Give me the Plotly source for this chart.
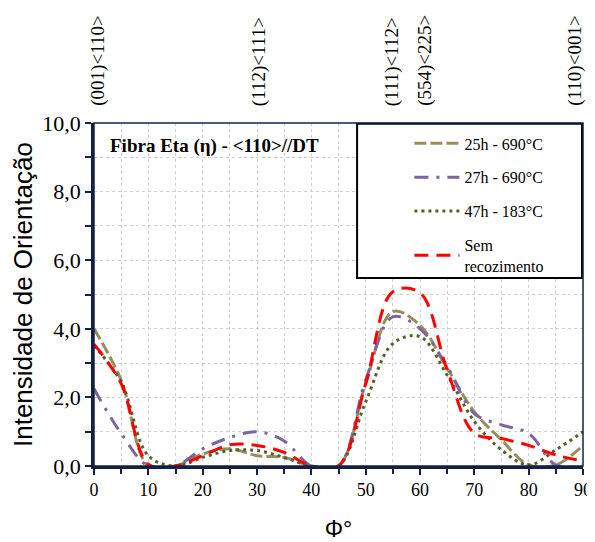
import plotly.graph_objects as go

# angulo Phi (graus) - pontos a cada 5 graus
phi = [0, 5, 10, 15, 20, 25, 30, 35, 40, 45, 50, 55, 60, 65, 70, 75, 80, 85, 90]

# intensidade de orientacao por condicao
i_25h_690 = [4.0, 2.5, 0.0, 0.0, 0.35, 0.5, 0.3, 0.25, 0.0, 0.0, 2.4, 4.5, 4.1, 2.85, 1.58, 0.76, 0.03, 0.03, 0.6]
i_27h_690 = [2.25, 0.95, 0.0, 0.0, 0.5, 0.83, 1.0, 0.73, 0.0, 0.0, 2.5, 4.35, 4.0, 2.9, 1.53, 1.2, 0.95, 0.03, 0.0]
i_47h_183 = [3.5, 2.45, 0.3, 0.0, 0.25, 0.45, 0.45, 0.25, 0.0, 0.0, 1.87, 3.57, 3.77, 2.65, 1.3, 0.47, 0.03, 0.47, 1.0]
i_sem_rec = [3.55, 2.4, 0.05, 0.0, 0.3, 0.62, 0.6, 0.4, 0.0, 0.0, 2.4, 5.08, 5.05, 2.8, 0.95, 0.8, 0.6, 0.32, 0.15]

# componentes ideais marcados no topo
comp_pos = [0.7, 30.5, 55, 61, 88.5]
comp_lbl = ["(001)<110>", "(112)<111>", "(111)<112>", "(554)<225>", "(110)<001>"]

serie = [
    ("25h - 690°C", i_25h_690, "#978E5E", "12px,4px"),
    ("27h - 690°C", i_27h_690, "#7B64A0", "14px,8px,3px,8px"),
    ("47h - 183°C", i_47h_183, "#4F6228", "3px,4px"),
    ("Sem<br>recozimento", i_sem_rec, "#FF0000", "14px,8px"),
]

serif = "Times New Roman, Liberation Serif, serif"
sans = "Arial, Liberation Sans, sans-serif"
navy = "#13214A"

fig = go.Figure()
for k, (nome, vals, cor, dash) in enumerate(serie):
    fig.add_trace(go.Scatter(x=phi, y=vals, name=nome, mode="lines",
                             line=dict(color=cor, width=3, dash=dash, shape="spline", smoothing=1),
                             legendgroup="g%d" % k))

# rotulos dos componentes
for xp, txt in zip(comp_pos, comp_lbl):
    fig.add_annotation(x=xp, y=1.044, xref="x", yref="paper", text=txt.replace("<", "&lt;").replace(">", "&gt;"),
                       textangle=-90, showarrow=False, xanchor="center", yanchor="bottom",
                       font=dict(family=serif, size=19, color="black"))

fig.add_annotation(x=0.029, y=0.933, xref="paper", yref="paper", xanchor="left", yanchor="middle",
                   text="<b>Fibra Eta (η) - &lt;110&gt;//DT</b>", showarrow=False,
                   font=dict(family=serif, size=19, color="black"))

# caixa da legenda
fig.add_shape(type="rect", xref="paper", yref="paper", x0=0.538, x1=0.998, y0=0.548, y1=0.998,
              fillcolor="white", line=dict(color="black", width=2), layer="above")
# moldura fina
fig.add_shape(type="rect", xref="paper", yref="paper", x0=0, x1=1, y0=0, y1=1,
              line=dict(color=navy, width=1.5), layer="above")

# a pagina tem margem de 8px no body, por isso a figura fica 8px menor
fig.update_layout(
    width=587, height=534,
    margin=dict(l=86, r=12, t=115, b=76, autoexpand=False),
    paper_bgcolor="white", plot_bgcolor="white",
    separators=",.",
    showlegend=True,
    legend=dict(x=0.645, y=0.99, xanchor="left", yanchor="top", bgcolor="rgba(0,0,0,0)",
                borderwidth=0, tracegroupgap=10, itemwidth=45,
                font=dict(family=serif, size=16, color="black")),
    xaxis=dict(range=[0, 90], dtick=10, tick0=0, showline=True, linecolor=navy, linewidth=2.5,
               ticks="outside", ticklen=6, tickcolor=navy, tickwidth=1.5, automargin=False,
               showgrid=True, gridcolor="#D0D0D0", griddash="dot", gridwidth=1, zeroline=False,
               minor=dict(dtick=5, ticks="outside", ticklen=5, tickcolor=navy, showgrid=True,
                          gridcolor="#D0D0D0", griddash="dot"),
               tickfont=dict(family=serif, size=18, color="black"),
               title=dict(text="Φ°", font=dict(family=sans, size=23, color="black"), standoff=22)),
    yaxis=dict(range=[0, 10], dtick=2, tick0=0, tickformat=".1f", showline=True, linecolor=navy, linewidth=2.5,
               ticks="outside", ticklen=6, tickcolor=navy, tickwidth=1.5, automargin=False,
               showgrid=True, gridcolor="#D0D0D0", griddash="dot", gridwidth=1, zeroline=False,
               minor=dict(dtick=1, ticks="outside", ticklen=6, tickcolor=navy, showgrid=True,
                          gridcolor="#D0D0D0", griddash="dot"),
               tickfont=dict(family=serif, size=22, color="black"),
               title=dict(text="Intensidade de Orientação", font=dict(family=sans, size=26, color="black"), standoff=4)),
)

fig.write_html("out.html")
